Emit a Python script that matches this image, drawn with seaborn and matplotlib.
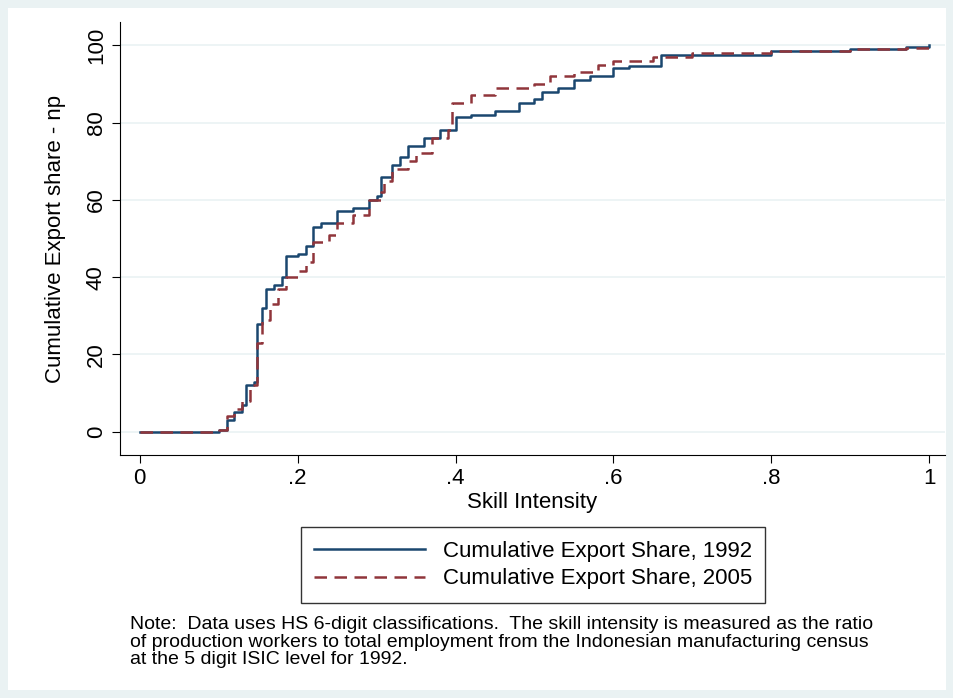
import numpy as np
import pandas as pd
import matplotlib.pyplot as plt
import seaborn as sns
from matplotlib.lines import Line2D

plt.rcParams['font.family'] = ['Liberation Sans', 'DejaVu Sans']

x_1992 = [0, 0.05, 0.1, 0.11, 0.12, 0.13, 0.135, 0.145, 0.148, 0.155, 0.16, 0.17, 0.18, 0.185,
          0.2, 0.21, 0.22, 0.23, 0.25, 0.27, 0.29, 0.3, 0.305, 0.32, 0.33, 0.34, 0.36, 0.38,
          0.4, 0.42, 0.45, 0.48, 0.5, 0.51, 0.53, 0.55, 0.57, 0.6, 0.62, 0.66, 0.78, 0.8, 0.9, 0.97, 1.0]
y_1992 = [0, 0, 0.5, 3, 5, 7, 12, 13, 28, 32, 37, 38, 40, 45.5,
          46, 48, 53, 54, 57, 58, 60, 61, 66, 69, 71, 74, 76, 78,
          81.5, 82, 83, 85, 86, 88, 89, 91, 92, 94, 94.5, 97.5, 97.5, 98.5, 99, 99.5, 100]
x_2005 = [0, 0.05, 0.1, 0.11, 0.12, 0.13, 0.14, 0.148, 0.155, 0.165, 0.175, 0.185, 0.2, 0.21,
          0.22, 0.24, 0.25, 0.27, 0.29, 0.305, 0.31, 0.32, 0.34, 0.35, 0.37, 0.39, 0.395,
          0.42, 0.45, 0.5, 0.52, 0.55, 0.58, 0.6, 0.65, 0.7, 0.8, 0.9, 0.97, 1.0]
y_2005 = [0, 0, 0.5, 4, 6, 8, 12, 23, 29, 33, 37, 40, 41.5, 44,
          49, 51, 54, 56, 60, 62, 65, 68, 70, 72, 76, 78, 85,
          87, 89, 90, 92, 93, 95, 96, 97, 98, 98.5, 99, 99.3, 100]

df = pd.concat([
    pd.DataFrame({"x": x_1992, "y": y_1992, "s": "Cumulative Export Share, 1992"}),
    pd.DataFrame({"x": x_2005, "y": y_2005, "s": "Cumulative Export Share, 2005"}),
])

bg = "#EAF2F3"
fig = plt.figure(figsize=(9.54, 6.98), dpi=100, facecolor=bg)
fig.patches.append(plt.Rectangle((8/954, 8/698), 938/954, 682/698, transform=fig.transFigure,
                                 facecolor="white", edgecolor="none", zorder=-1))
ax = fig.add_axes([120/954, 1-455/698, 825/954, 433/698])
sns.lineplot(data=df, x="x", y="y", hue="s", style="s",
             palette=["#1a476f", "#90353b"], dashes=[(None, None), (4, 2)],
             drawstyle="steps-post", linewidth=1.8, ax=ax, legend=False)
ax.lines[1].set_dashes([5, 3])

ax.set_xlim(-0.025, 1.02)
ax.set_ylim(-6, 106)
ax.set_xticks([0, .2, .4, .6, .8, 1])
ax.set_xticklabels(["0", ".2", ".4", ".6", ".8", "1"])
ax.set_yticks([0, 20, 40, 60, 80, 100])
ax.set_yticklabels(["0", "20", "40", "60", "80", "100"], rotation=90, va="center")
ax.tick_params(labelsize=16, length=6)
ax.grid(axis="y", color=bg, linewidth=1.2)
ax.set_axisbelow(True)
for s in ["top", "right"]:
    ax.spines[s].set_visible(False)
ax.set_xlabel("Skill Intensity", fontsize=16, labelpad=2)
ax.set_ylabel("Cumulative Export share - np", fontsize=16, labelpad=14)

handles = [Line2D([], [], color="#1a476f", lw=1.8),
           Line2D([], [], color="#90353b", lw=1.8, dashes=[5, 3])]
leg = fig.legend(handles, ["Cumulative Export Share, 1992", "Cumulative Export Share, 2005"],
                 loc="center", bbox_to_anchor=(533/954, 1-565/698), fontsize=16,
                 frameon=True, fancybox=False, handlelength=5.0, edgecolor="black",
                 borderpad=0.6, labelspacing=0.3)
leg.get_frame().set_linewidth(1)

fig.text(130/954, 1-616/698,
         "Note:  Data uses HS 6-digit classifications.  The skill intensity is measured as the ratio\n"
         "of production workers to total employment from the Indonesian manufacturing census\n"
         "at the 5 digit ISIC level for 1992.",
         fontsize=14, va="top", linespacing=1.05)

fig.savefig("out.png", dpi=100, facecolor=bg)
